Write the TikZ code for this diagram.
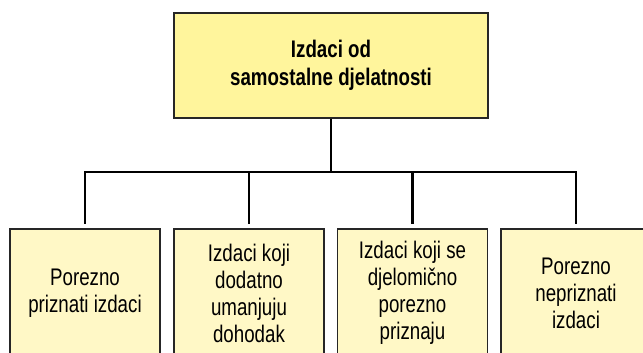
\documentclass[tikz,border=0pt]{standalone}
\usepackage{fontspec}
\setmainfont{Liberation Sans}[FakeStretch=0.78]
\usepackage{xcolor}
\usetikzlibrary{calc,positioning}

\definecolor{topfill}{HTML}{FFF59C}
\definecolor{subfill}{HTML}{FFF8C6}
\tikzset{
  glavni/.style={draw=black!85, line width=1.2pt, fill=topfill, minimum width=314pt,
    minimum height=105pt, align=center, font=\fontsize{24}{28}\selectfont\bfseries},
  vrsta/.style={draw=black!85, line width=1.2pt, fill=subfill, minimum width=150pt,
    minimum height=128pt, align=center, font=\fontsize{24}{27}\selectfont},
  veza/.style={line width=2.4pt, black}
}

\begin{document}
\begin{tikzpicture}[x=1pt,y=1pt]
\useasboundingbox (0,0) rectangle (643,353);
\clip (0,0) rectangle (643,353);
\node[glavni] (izdaci) at (331,287.5) {Izdaci od\\samostalne djelatnosti};
\node[vrsta] (priznati) at (85,60) {Porezno\\priznati izdaci};
\node[vrsta] (dodatno) at (249,60) {Izdaci koji\\dodatno\\umanjuju\\dohodak};
\node[vrsta] (djelomicno) at (412.5,60) {Izdaci koji se\\djelomično\\porezno\\priznaju};
\node[vrsta] (nepriznati) at (576,60) {Porezno\\nepriznati\\izdaci};
\coordinate (grana) at (331,181);
\draw[veza] (izdaci.south) -- (grana);
\draw[veza, line cap=rect] (grana -| priznati.north) -- (grana -| nepriznati.north);
\foreach \n in {priznati,dodatno,djelomicno,nepriznati}
  \draw[veza, shorten >=4pt] (grana -| \n.north) -- (\n.north);
\end{tikzpicture}
\end{document}
